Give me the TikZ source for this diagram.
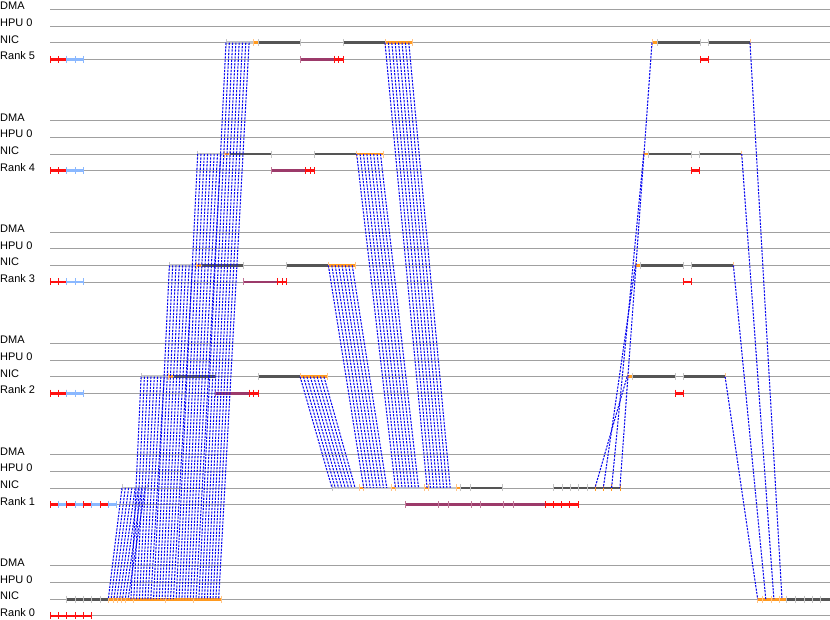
\documentclass[tikz,border=0pt]{standalone}
\usepackage{fontspec}
\setmainfont{Liberation Sans}
\definecolor{gline}{HTML}{A0A0A0}
\definecolor{dbar}{HTML}{555555}
\definecolor{lbar}{HTML}{C4C4C4}
\definecolor{obar}{HTML}{FF9A1F}
\definecolor{otick}{HTML}{FFC488}
\definecolor{rbar}{HTML}{FF1010}
\definecolor{bbar}{HTML}{8AB8FF}
\definecolor{pbar}{HTML}{9C3A6A}
\definecolor{ptick}{HTML}{C07898}
\definecolor{dline}{HTML}{0A0AF0}
\tikzset{
  lane/.style={gline, line width=0.8pt},
  lbl/.style={anchor=base west, inner sep=0pt, font=\fontsize{11}{13}\selectfont},
  msg/.style={dline, line width=1.05pt, dash pattern=on 2.2pt off 1.2pt},
  tickline/.style={line width=0.7pt},
}
% y, x1, x2, subdivisions, bar colour, tick colour
\newcommand{\tseg}[6]{%
  \draw[#5, line width=2.6pt] ({#2},{#1}) -- ({#3},{#1});
  \foreach \kk in {0,...,#4}{\draw[#6, tickline] ({(#2)+((#3)-(#2))*\kk/(#4)},{(#1)-3.5}) -- ++(0,7);}
}
% y, list of x, colour
\newcommand{\tickset}[3]{%
  \foreach \tt in {#2}{\draw[#3, tickline] (\tt,{(#1)-3.5}) -- ++(0,7);}
}
\begin{document}
\begin{tikzpicture}[x=1pt,y=-1pt]
\useasboundingbox (0,0) rectangle (830,619);
% lanes and labels
\foreach \r in {0,...,5}{
  \pgfmathsetmacro\dy{111.3*(5-\r)}
  \foreach \n/\txt/\o in {d/DMA/9.3, h/HPU 0/26, n/NIC/42.7, k/Rank \r/59.3}{
    \draw[lane] (50,\o+\dy) -- (830,\o+\dy);
    \node[lbl] (\n\r) at (0,\o+\dy+0.6) {\txt};
  }
}
% ranks 2..5
\foreach \r in {2,...,5}{
  \pgfmathsetmacro\yn{42.7+111.3*(5-\r)}
  \pgfmathsetmacro\yr{\yn+16.6}
  \pgfmathsetmacro\sh{28.3*(5-\r)}
  \pgfmathsetmacro\sr{8.3*(5-\r)}
  \tseg{\yr}{50}{66.7}{2}{rbar}{rbar}
  \tseg{\yr}{66.7}{83.3}{2}{bbar}{bbar}
  \tseg{\yn}{226-\sh}{253-\sh}{1}{lbar}{lbar}
  \tseg{\yn}{253-\sh}{258-\sh}{1}{obar}{otick}
  \tseg{\yn}{258-\sh}{300-\sh}{1}{dbar}{lbar}
  \tseg{\yn}{343-\sh}{385-\sh}{1}{dbar}{lbar}
  \tseg{\yn}{385-\sh}{412-\sh}{1}{obar}{otick}
  \tseg{\yr}{300-\sh}{334-\sh}{1}{pbar}{ptick}
  \tseg{\yr}{334-\sh}{343-\sh}{2}{rbar}{rbar}
  \tseg{\yn}{652-\sr}{657-\sr}{1}{obar}{otick}
  \tseg{\yn}{657-\sr}{700-\sr}{1}{dbar}{lbar}
  \tseg{\yn}{708-\sr}{750-\sr}{1}{dbar}{lbar}
  \tickset{\yn}{750-\sr}{otick}
  \tseg{\yr}{700-\sr}{708-\sr}{1}{rbar}{rbar}
}
% rank 1
\foreach \i in {0,...,7}{
  \pgfmathsetmacro\xa{50+8.333*\i}
  \ifodd\i\def\cc{bbar}\else\def\cc{rbar}\fi
  \tseg{504.5}{\xa}{\xa+8.333}{1}{\cc}{\cc}
}
\tseg{504.5}{405}{545}{1}{pbar}{ptick}
\tickset{504.5}{438,448,471,480,503,513}{ptick}
\tseg{504.5}{545}{578}{4}{rbar}{rbar}
\tseg{487.9}{122}{147}{1}{lbar}{lbar}
\tseg{487.9}{332}{460}{1}{lbar}{lbar}
\foreach \x in {359,391,424,456}{\tseg{487.9}{\x}{\x+4}{1}{obar}{otick}}
\tseg{487.9}{460}{502}{1}{dbar}{lbar}
\tickset{487.9}{470}{lbar}
\tseg{487.9}{553}{620}{1}{dbar}{lbar}
\tickset{487.9}{562,570,578,587}{lbar}
\tickset{487.9}{595,603.3,611.6,619.9}{obar}
% rank 0
\tseg{615.8}{50}{91.7}{5}{rbar}{rbar}
\tseg{599.2}{66.7}{108.3}{5}{dbar}{lbar}
\tseg{599.2}{108.3}{221}{1}{obar}{otick}
\tickset{599.2}{113,117,121,125,133,165,193}{otick}
\tseg{599.2}{757.7}{786.7}{1}{obar}{otick}
\tickset{599.2}{762.7,771,779}{otick}
\tseg{599.2}{786.7}{830}{1}{dbar}{lbar}
\tickset{599.2}{795,804,812,820}{lbar}
% phase 1: all ranks to rank 0
\foreach \r in {1,...,5}{
  \pgfmathsetmacro\yn{42.7+111.3*(5-\r)}
  \pgfmathsetmacro\xs{\r==1 ? 122 : 226-28.3*(5-\r)}
  \foreach \i in {0,...,7}{
    \pgfmathsetmacro\xe{108.3+2.83*(8*(\r-1)+\i)}
    \draw[msg] (\xs+3.3*\i,\yn) -- (\xe,599.2);
  }
}
% phase 2: ranks 2..5 to rank 1
\foreach \r in {2,...,5}{
  \pgfmathsetmacro\yn{42.7+111.3*(5-\r)}
  \pgfmathsetmacro\xs{385-28.3*(5-\r)}
  \pgfmathsetmacro\xe{332+31.7*(\r-2)}
  \foreach \i in {0,...,7}{
    \draw[msg] (\xs+3.4*\i,\yn) -- (\xe+3.3*\i,487.9);
  }
}
% phase 3 and 4: single messages
\foreach \r in {2,...,5}{
  \pgfmathsetmacro\yn{42.7+111.3*(5-\r)}
  \draw[msg] (652-8.3*5+8.3*\r,\yn) -- (595+8.3*\r-16.6,487.9);
  \draw[msg] (750-8.3*5+8.3*\r,\yn) -- (757.7+8.1*\r-16.2,599.2);
}
\end{tikzpicture}
\end{document}
